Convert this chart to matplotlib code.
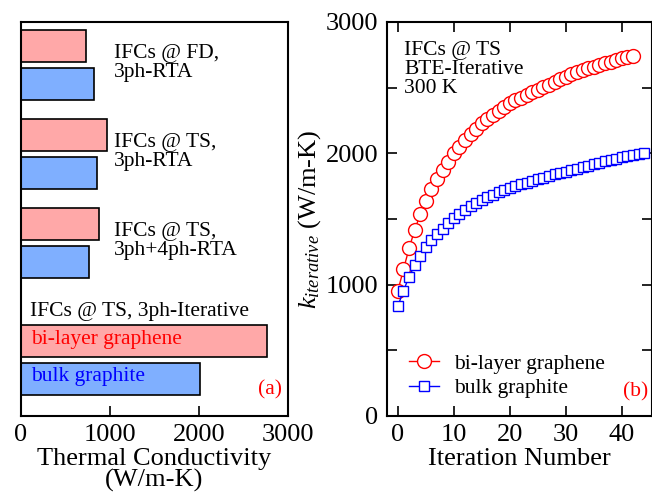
import matplotlib
matplotlib.use("Agg")
import matplotlib.pyplot as plt
from matplotlib.ticker import MultipleLocator

plt.rcParams['font.family'] = ['Liberation Serif', 'DejaVu Serif']
plt.rcParams['mathtext.fontset'] = 'custom'
plt.rcParams['mathtext.rm'] = 'Liberation Serif'
plt.rcParams['mathtext.it'] = 'Liberation Serif:italic'

# (a) thermal conductivity per method, W/m-K
methods = ["IFCs @ FD,\n3ph-RTA", "IFCs @ TS,\n3ph-RTA", "IFCs @ TS,\n3ph+4ph-RTA", "IFCs @ TS, 3ph-Iterative"]
graphene_k = [727, 970, 872, 2760]
graphite_k = [824, 850, 768, 2011]

# (b) iterative convergence
graphene_iter = [954, 1117, 1277, 1417, 1536, 1637, 1729, 1803, 1874, 1937,
                 2000, 2051, 2099, 2145, 2186, 2229, 2262, 2295, 2325, 2354,
                 2381, 2403, 2424, 2445, 2465, 2483, 2503, 2523, 2545, 2565,
                 2584, 2601, 2617, 2632, 2646, 2660, 2673, 2686, 2698, 2711,
                 2724, 2734, 2744]
graphite_iter = [838, 954, 1061, 1147, 1221, 1287, 1340, 1384, 1427, 1467,
                 1506, 1538, 1569, 1596, 1621, 1645, 1665, 1684, 1702, 1718,
                 1734, 1748, 1763, 1777, 1790, 1803, 1815, 1827, 1839, 1850,
                 1861, 1872, 1884, 1895, 1906, 1917, 1928, 1939, 1949, 1960,
                 1970, 1978, 1986, 1993, 2000]

FS = 19   # ticks / axis labels
TS = 15.5 # annotations

fig = plt.figure(figsize=(6.52, 4.94), dpi=100)
ax1 = fig.add_axes([0.0322, 0.1579, 0.4095, 0.7976])
ax2 = fig.add_axes([0.5931, 0.1579, 0.4069, 0.7976])

# ---- panel (a)
pos_gr = [9.81, 7.45, 5.10, 1.99]  # bar centres
pos_gt = [8.81, 6.45, 4.09, 0.98]
ax1.barh(pos_gr, graphene_k, height=0.85, color='#ffa8a8', edgecolor='black', lw=1.2)
ax1.barh(pos_gt, graphite_k, height=0.85, color='#7fafff', edgecolor='black', lw=1.2)
ax1.set_xlim(0, 3000)
ax1.set_ylim(0, 10.45)
ax1.set_yticks([])
ax1.set_xticks([0, 1000, 2000, 3000])
ax1.tick_params(axis='x', direction='in', length=7, width=1.2, labelsize=FS, pad=6)
ax1.set_xlabel("Thermal Conductivity\n(W/m-K)", fontsize=FS, labelpad=1, linespacing=0.95)

ys = [0.896, 0.669, 0.444]
for m, y in zip(methods[:3], ys):
    ax1.text(0.348, y, m, transform=ax1.transAxes, fontsize=TS, va='center', ha='left', linespacing=1.0)
ax1.text(0.034, 0.264, methods[3], transform=ax1.transAxes, fontsize=TS, va='center')
ax1.text(0.037, 0.193, "bi-layer graphene", transform=ax1.transAxes, fontsize=TS, va='center', color='red')
ax1.text(0.037, 0.099, "bulk graphite", transform=ax1.transAxes, fontsize=TS, va='center', color='blue')
ax1.text(0.933, 0.066, "(a)", transform=ax1.transAxes, fontsize=TS, va='center', ha='center', color='red')

# ---- panel (b)
ax2.plot(range(len(graphene_iter)), graphene_iter, '-o', color='red', lw=1,
         ms=10, mfc='white', mew=1.0, label='bi-layer graphene')
ax2.plot(range(len(graphite_iter)), graphite_iter, '-s', color='blue', lw=1,
         ms=7.3, mfc='white', mew=1.0, label='bulk graphite')
ax2.set_xlim(-2, 45.4)
ax2.set_ylim(0, 3000)
ax2.xaxis.set_major_locator(MultipleLocator(10))
ax2.yaxis.set_major_locator(MultipleLocator(1000))
ax2.yaxis.set_minor_locator(MultipleLocator(500))
ax2.tick_params(which='both', direction='in', length=7, width=1.2, labelsize=FS,
                top=True, right=True, pad=6)
ax2.set_xlabel("Iteration Number", fontsize=FS, labelpad=1)
ax2.set_ylabel(r"$k_{iterative}$ (W/m-K)", fontsize=FS, labelpad=2)
ax2.text(0.065, 0.879, "IFCs @ TS\nBTE-Iterative\n300 K", transform=ax2.transAxes,
         fontsize=TS, va='center', ha='left', linespacing=1.0)
ax2.text(0.94, 0.061, "(b)", transform=ax2.transAxes, fontsize=TS, va='center', ha='center', color='red')
ax2.legend(loc='lower left', bbox_to_anchor=(0.084, 0.045), frameon=False, fontsize=TS,
           borderaxespad=0, borderpad=0, handlelength=1.4, handletextpad=0.7,
           labelspacing=0.2, numpoints=1)

for ax in (ax1, ax2):
    for s in ax.spines.values():
        s.set_linewidth(1.5)

fig.savefig("out.png", dpi=100)
